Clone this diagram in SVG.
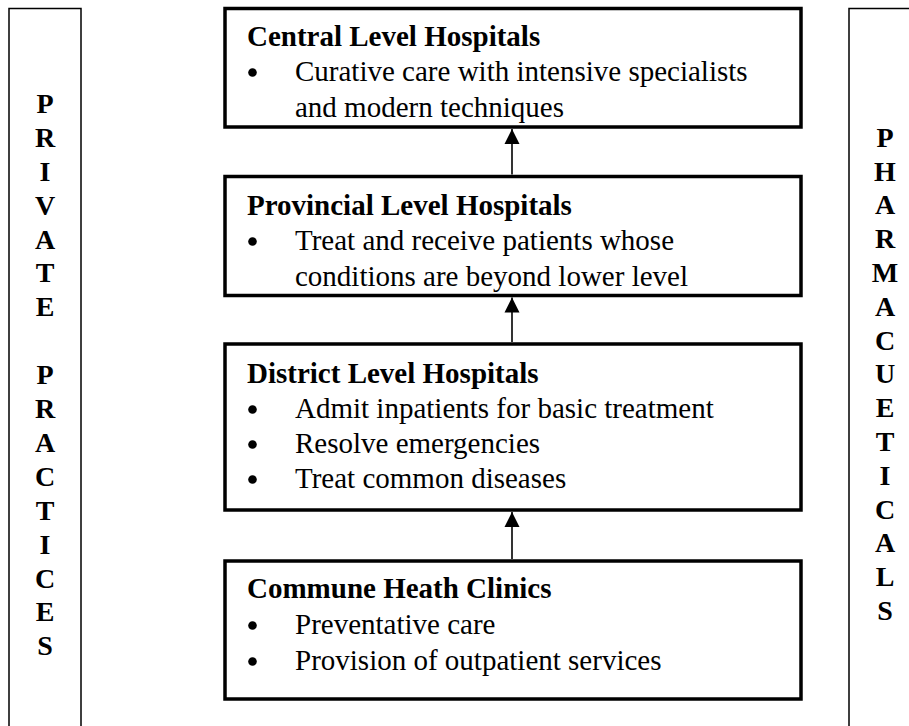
<svg xmlns="http://www.w3.org/2000/svg" width="909" height="726" viewBox="0 0 909 726">
<defs>
<style>
.box{fill:#fff;stroke:#000;stroke-width:3.5}
.bar{fill:#fff;stroke:#000;stroke-width:1.5}
.t{font-family:"Liberation Serif","Times New Roman",serif;font-size:29px;fill:#000}
.h{font-weight:bold}
.v{font-family:"Liberation Serif","Times New Roman",serif;font-size:28px;font-weight:bold;fill:#000;text-anchor:middle}
.dot{fill:#000}
.c{stroke:#000;stroke-width:1.6;fill:none}
</style>
<marker id="ah" markerWidth="16" markerHeight="16" viewBox="0 0 16 16" refX="15" refY="8" orient="auto" markerUnits="userSpaceOnUse">
<path d="M0,0.5 L15,8 L0,15.5 Z" fill="#000"/>
</marker>
</defs>
<rect width="909" height="726" fill="#fff"/>
<g id="private">
<path class="bar" d="M9,730 V8.5 H81 V730"/>
<text class="v" x="45" y="113">P</text>
<text class="v" x="45" y="147">R</text>
<text class="v" x="45" y="181">I</text>
<text class="v" x="45" y="215">V</text>
<text class="v" x="45" y="249">A</text>
<text class="v" x="45" y="282">T</text>
<text class="v" x="45" y="316">E</text>
<text class="v" x="45" y="384">P</text>
<text class="v" x="45" y="418">R</text>
<text class="v" x="45" y="452">A</text>
<text class="v" x="45" y="486">C</text>
<text class="v" x="45" y="520">T</text>
<text class="v" x="45" y="554">I</text>
<text class="v" x="45" y="588">C</text>
<text class="v" x="45" y="621">E</text>
<text class="v" x="45" y="655">S</text>
</g>
<g id="pharma">
<path class="bar" d="M849,730 V8.5 H915"/>
<text class="v" x="885" y="147">P</text>
<text class="v" x="885" y="181">H</text>
<text class="v" x="885" y="214">A</text>
<text class="v" x="885" y="248">R</text>
<text class="v" x="885" y="282">M</text>
<text class="v" x="885" y="316">A</text>
<text class="v" x="885" y="350">C</text>
<text class="v" x="885" y="383">U</text>
<text class="v" x="885" y="417">E</text>
<text class="v" x="885" y="451">T</text>
<text class="v" x="885" y="485">I</text>
<text class="v" x="885" y="519">C</text>
<text class="v" x="885" y="552">A</text>
<text class="v" x="885" y="586">L</text>
<text class="v" x="885" y="620">S</text>
</g>
<g id="central">
<rect class="box" x="225" y="8.5" width="576" height="118.5"/>
<text class="t h" x="247" y="46">Central Level Hospitals</text>
<circle class="dot" cx="252.5" cy="72.5" r="4.3"/>
<text class="t" x="295" y="81">Curative care with intensive specialists</text>
<text class="t" x="295" y="117">and modern techniques</text>
</g>
<g id="provincial">
<rect class="box" x="225" y="176.5" width="576" height="119"/>
<text class="t h" x="247" y="215">Provincial Level Hospitals</text>
<circle class="dot" cx="252.5" cy="241.5" r="4.3"/>
<text class="t" x="295" y="250">Treat and receive patients whose</text>
<text class="t" x="295" y="286">conditions are beyond lower level</text>
</g>
<g id="district">
<rect class="box" x="225" y="344" width="576" height="166"/>
<text class="t h" x="247" y="383">District Level Hospitals</text>
<circle class="dot" cx="252.5" cy="409.5" r="4.3"/>
<text class="t" x="295" y="418">Admit inpatients for basic treatment</text>
<circle class="dot" cx="252.5" cy="444.5" r="4.3"/>
<text class="t" x="295" y="453">Resolve emergencies</text>
<circle class="dot" cx="252.5" cy="479.5" r="4.3"/>
<text class="t" x="295" y="488">Treat common diseases</text>
</g>
<g id="commune">
<rect class="box" x="225" y="561" width="576" height="138"/>
<text class="t h" x="247" y="598">Commune Heath Clinics</text>
<circle class="dot" cx="252.5" cy="625.5" r="4.3"/>
<text class="t" x="295" y="634">Preventative care</text>
<circle class="dot" cx="252.5" cy="661.5" r="4.3"/>
<text class="t" x="295" y="670">Provision of outpatient services</text>
</g>
<g id="connectors">
<line class="c" x1="512" y1="174.5" x2="512" y2="129" marker-end="url(#ah)"/>
<line class="c" x1="512" y1="342" x2="512" y2="297.5" marker-end="url(#ah)"/>
<line class="c" x1="512" y1="559" x2="512" y2="512" marker-end="url(#ah)"/>
</g>
</svg>
